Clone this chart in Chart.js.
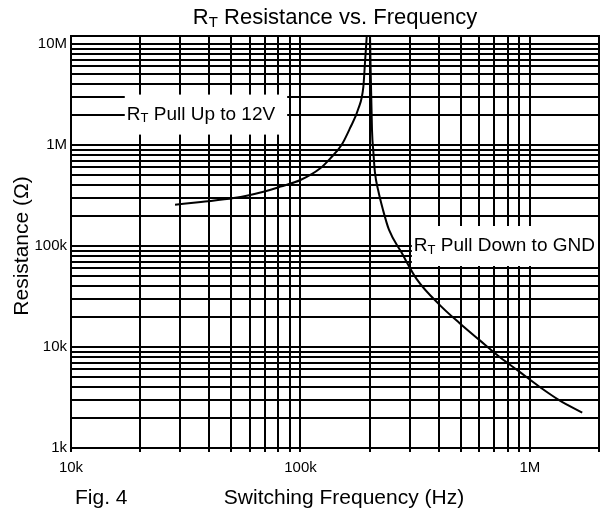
<!DOCTYPE html>
<html>
<head>
<meta charset="utf-8">
<script src="https://cdn.jsdelivr.net/npm/chart.js@4.4.1/dist/chart.umd.min.js"></script>
<style>
  html, body { margin: 0; padding: 0; background: #fff; }
  #wrap { width: 606px; height: 515px; position: relative; }
</style>
</head>
<body>
<div id="wrap"><canvas id="chart"></canvas></div>
<script>
// values (Hz, ohm)
const pullUpFreq = [28.4e3, 36.8e3, 51.2e3, 69e3, 81.8e3, 100e3, 122e3, 135e3, 151e3, 164e3, 179e3, 188e3, 191e3, 194.5e3];
const pullUpRes  = [256e3, 273e3, 298e3, 345e3, 387e3, 450e3, 588e3, 738e3, 1.0e6, 1.45e6, 2.31e6, 3.78e6, 6.44e6, 1.2e7];

const pullDownFreq = [201e3, 202e3, 205e3, 208e3, 211e3, 218e3, 229e3, 243e3, 275e3, 321e3, 405e3, 494e3, 603e3, 736e3, 899e3, 1.1e6, 1.34e6, 1.69e6];
const pullDownRes  = [1.2e7, 6.44e6, 1.41e6, 834e3, 541e3, 358e3, 227e3, 145e3, 87e3, 47e3, 26e3, 17.2e3, 11.7e3, 8.0e3, 5.7e3, 4.04e3, 2.98e3, 2.24e3];

const xDecades = [1e4, 1e5, 1e6];
const xDecadeLabels = ['10k', '100k', '1M'];
const yDecades = [1e3, 1e4, 1e5, 1e6, 1e7];
const yDecadeLabels = ['1k', '10k', '100k', '1M', '10M'];

// curve labels: text after the R_T, and where each one sits (freq, res)
const noteText = [' Pull Up to 12V', ' Pull Down to GND'];
const noteFreq = [17.5e3, 312e3];
const noteRes  = [2e6, 1e5];

const FONT = '"Liberation Sans", Arial, sans-serif';

const toPoints = (xs, ys) => xs.map((v, i) => ({ x: v, y: ys[i] }));

// 1..9 x each decade, clipped to the axis range
function logGrid(decades, min, max) {
  const out = [];
  decades.forEach(d => {
    for (let k = 1; k <= 9; k++) {
      const v = k * d;
      if (v >= min && v <= max) out.push({ value: v });
    }
  });
  return out;
}

// draws "R" + subscript T + rest, returns width
function drawRt(ctx, rest, x, y, size, draw = true) {
  ctx.font = size + 'px ' + FONT;
  const wR = ctx.measureText('R').width;
  ctx.font = Math.round(size * 0.7) + 'px ' + FONT;
  const wT = ctx.measureText('T').width;
  ctx.font = size + 'px ' + FONT;
  const wRest = ctx.measureText(rest).width;
  if (draw) {
    ctx.fillText('R', x, y);
    ctx.font = Math.round(size * 0.7) + 'px ' + FONT;
    ctx.fillText('T', x + wR, y + size * 0.22);
    ctx.font = size + 'px ' + FONT;
    ctx.fillText(rest, x + wR + wT, y);
  }
  return wR + wT + wRest;
}

const frame = {
  id: 'frame',
  beforeDatasetsDraw(chart) {
    const { ctx, chartArea: a, scales: { x, y } } = chart;
    ctx.save();
    ctx.strokeStyle = '#000';
    ctx.lineWidth = 2;
    ctx.strokeRect(a.left, a.top, a.right - a.left, a.bottom - a.top);

    ctx.textBaseline = 'middle';
    ctx.textAlign = 'left';
    noteText.forEach((t, i) => {
      const px = x.getPixelForValue(noteFreq[i]);
      const py = y.getPixelForValue(noteRes[i]);
      const w = drawRt(ctx, t, px, py, 19, false);
      ctx.fillStyle = '#fff';
      ctx.fillRect(px - 2, py - 20, Math.min(w + 14, a.right - px + 1), 40);
      ctx.fillStyle = '#000';
      drawRt(ctx, t, px, py, 19);
    });
    ctx.restore();
  },
  afterDraw(chart) {
    const { ctx, chartArea: a } = chart;
    ctx.save();
    ctx.fillStyle = '#000';
    ctx.textBaseline = 'middle';
    ctx.textAlign = 'left';

    // title, centred over the plot
    const tw = drawRt(ctx, ' Resistance vs. Frequency', 0, 0, 22, false);
    drawRt(ctx, ' Resistance vs. Frequency', (a.left + a.right) / 2 - tw / 2, 18, 22);

    ctx.font = '21px ' + FONT;
    ctx.fillText('Fig. 4', 75, 498);
    ctx.textAlign = 'center';
    ctx.fillText('Switching Frequency (Hz)', 344, 498);

    ctx.translate(22, 246);
    ctx.rotate(-Math.PI / 2);
    ctx.fillText('Resistance (\u03A9)', 0, 0);
    ctx.restore();
  }
};

new Chart(document.getElementById('chart'), {
  type: 'scatter',
  data: {
    datasets: [
      { data: toPoints(pullUpFreq, pullUpRes) },
      { data: toPoints(pullDownFreq, pullDownRes) }
    ]
  },
  options: {
    responsive: true,
    maintainAspectRatio: false,
    animation: false,
    showLine: true,
    layout: { padding: { top: 36, right: 5, left: 0, bottom: 0 } },
    elements: {
      point: { radius: 0 },
      line: { borderColor: '#000', borderWidth: 2, cubicInterpolationMode: 'monotone', fill: false }
    },
    plugins: { legend: { display: false }, tooltip: { enabled: false } },
    scales: {
      x: {
        type: 'logarithmic',
        min: 1e4,
        max: 2e6,
        afterBuildTicks: s => { s.ticks = logGrid(xDecades, 1e4, 2e6); },
        afterFit: s => { s.height = 67; },
        grid: { color: '#000', lineWidth: 2, drawTicks: true, tickLength: 4, tickColor: '#000' },
        border: { display: false },
        ticks: {
          autoSkip: false,
          maxRotation: 0,
          padding: 7,
          color: '#000',
          font: { family: FONT, size: 15 },
          callback: v => {
            const i = xDecades.indexOf(v);
            return i >= 0 ? xDecadeLabels[i] : '';
          }
        }
      },
      y: {
        type: 'logarithmic',
        min: 1e3,
        max: 1.2e7,
        afterBuildTicks: s => { s.ticks = logGrid(yDecades, 1e3, 1e7); },
        afterFit: s => { s.width = 71; },
        grid: { color: '#000', lineWidth: 2, drawTicks: false },
        border: { display: false },
        ticks: {
          autoSkip: false,
          padding: 4,
          color: '#000',
          font: { family: FONT, size: 15 },
          callback: v => {
            const i = yDecades.indexOf(v);
            return i >= 0 ? yDecadeLabels[i] : '';
          }
        }
      }
    }
  },
  plugins: [frame]
});
</script>
</body>
</html>
